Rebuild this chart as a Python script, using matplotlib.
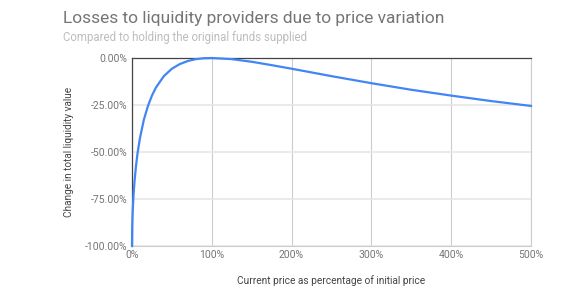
import matplotlib.pyplot as plt

# price as % of initial price, and change in liquidity value (%)
price_pct = [0, 0.2, 0.5, 1, 2, 3, 5, 7, 10, 15, 20, 25, 30, 40, 50, 60, 70, 80, 90,
             100, 125, 150, 175, 200, 250, 300, 350, 400, 450, 500]
change_pct = [-100.0, -91.1, -85.9, -80.2, -72.3, -66.4, -57.4, -50.5, -42.5, -32.6,
              -25.5, -20.0, -15.7, -9.6, -5.7, -3.2, -1.6, -0.6, -0.14,
              0.0, -0.6, -2.0, -3.8, -5.7, -9.65, -13.4, -16.9, -20.0, -22.9, -25.5]

x_ticks = [0, 100, 200, 300, 400, 500]
x_labels = ['0%', '100%', '200%', '300%', '400%', '500%']
y_ticks = [0, -25, -50, -75, -100]
y_labels = ['0.00%', '-25.00%', '-50.00%', '-75.00%', '-100.00%']

plt.rcParams['font.family'] = ['Roboto', 'DejaVu Sans']

fig = plt.figure(figsize=(5.88, 3.05), dpi=100)
ax = fig.add_axes([132 / 588, 1 - 246 / 305, (531 - 132) / 588, (246 - 58) / 305])

ax.plot(price_pct, change_pct, color='#4285f4', linewidth=1.6, zorder=3, clip_on=False)

ax.set_xlim(0, 500)
ax.set_ylim(-100, 0)
ax.set_xticks(x_ticks)
ax.set_xticklabels(x_labels)
ax.set_yticks(y_ticks)
ax.set_yticklabels(y_labels)
ax.tick_params(length=0, labelsize=7.5, labelcolor='#757575', pad=3)

ax.grid(axis='x', color='#cccccc', linewidth=0.8)
ax.grid(axis='y', color='#e6e6e6', linewidth=1.2)
ax.set_axisbelow(True)

for side in ['right', 'bottom']:
    ax.spines[side].set_color('#cccccc')
    ax.spines[side].set_linewidth(0.8)
for side in ['top', 'left']:
    ax.spines[side].set_color('#444444')
    ax.spines[side].set_linewidth(0.9)

ax.set_xlabel('Current price as percentage of initial price', fontsize=7.3, color='#444444', labelpad=11)
ax.set_ylabel('Change in total liquidity value', fontsize=7.2, color='#444444', labelpad=8)

fig.text(63 / 588, 1 - 18 / 305, 'Losses to liquidity providers due to price variation',
         fontsize=12.5, color='#757575', va='center')
fig.text(63 / 588, 1 - 37 / 305, 'Compared to holding the original funds supplied',
         fontsize=8.3, color='#bdbdbd', va='center')

fig.savefig('out.png', dpi=100)
